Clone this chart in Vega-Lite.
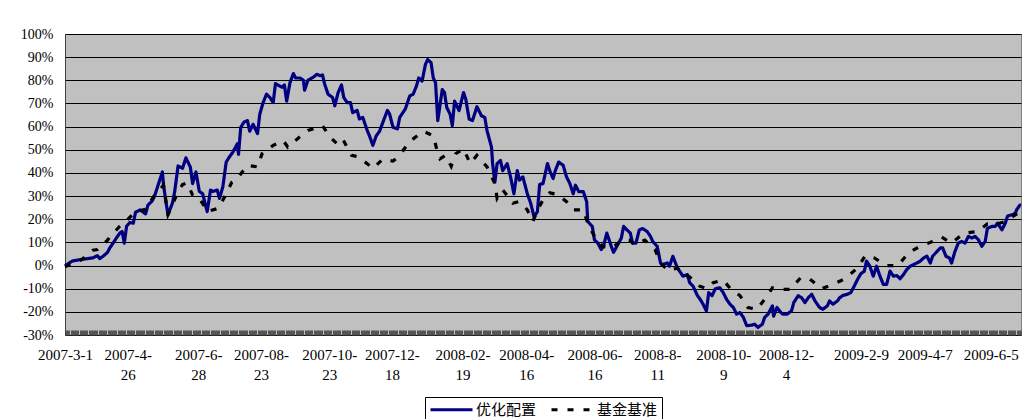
{
"$schema": "https://vega.github.io/schema/vega-lite/v6.json",
"width": 956,
"height": 301,
"autosize": {"type": "none"},
"padding": {"left": 65, "top": 34, "right": 3, "bottom": 84},
"background": "white",
"config": {"view": {"fill": "#C0C0C0", "stroke": "#808080", "strokeWidth": 1}, "font": "Liberation Serif"},
"datasets": {
"a": [
{"series":"优化配置","date":"2007-03-01","value":0},{"series":"优化配置","date":"2007-03-08","value":0.02},{"series":"优化配置","date":"2007-03-14","value":0.025},{"series":"优化配置","date":"2007-03-21","value":0.03},{"series":"优化配置","date":"2007-03-26","value":0.033},{"series":"优化配置","date":"2007-03-30","value":0.043},{"series":"优化配置","date":"2007-04-01","value":0.03},{"series":"优化配置","date":"2007-04-04","value":0.04},{"series":"优化配置","date":"2007-04-08","value":0.057},{"series":"优化配置","date":"2007-04-10","value":0.076},{"series":"优化配置","date":"2007-04-13","value":0.097},{"series":"优化配置","date":"2007-04-16","value":0.12},{"series":"优化配置","date":"2007-04-19","value":0.14},{"series":"优化配置","date":"2007-04-21","value":0.147},{"series":"优化配置","date":"2007-04-23","value":0.097},{"series":"优化配置","date":"2007-04-25","value":0.17},{"series":"优化配置","date":"2007-04-28","value":0.186},{"series":"优化配置","date":"2007-05-01","value":0.183},{"series":"优化配置","date":"2007-05-03","value":0.23},{"series":"优化配置","date":"2007-05-07","value":0.24},{"series":"优化配置","date":"2007-05-10","value":0.23},{"series":"优化配置","date":"2007-05-12","value":0.223},{"series":"优化配置","date":"2007-05-14","value":0.26},{"series":"优化配置","date":"2007-05-18","value":0.28},{"series":"优化配置","date":"2007-05-20","value":0.30},{"series":"优化配置","date":"2007-05-22","value":0.33},{"series":"优化配置","date":"2007-05-27","value":0.404},{"series":"优化配置","date":"2007-05-28","value":0.35},{"series":"优化配置","date":"2007-05-30","value":0.28},{"series":"优化配置","date":"2007-06-01","value":0.22},{"series":"优化配置","date":"2007-06-05","value":0.27},{"series":"优化配置","date":"2007-06-07","value":0.32},{"series":"优化配置","date":"2007-06-10","value":0.43},{"series":"优化配置","date":"2007-06-14","value":0.42},{"series":"优化配置","date":"2007-06-17","value":0.465},{"series":"优化配置","date":"2007-06-21","value":0.425},{"series":"优化配置","date":"2007-06-23","value":0.354},{"series":"优化配置","date":"2007-06-26","value":0.404},{"series":"优化配置","date":"2007-06-29","value":0.32},{"series":"优化配置","date":"2007-07-02","value":0.31},{"series":"优化配置","date":"2007-07-06","value":0.233},{"series":"优化配置","date":"2007-07-09","value":0.326},{"series":"优化配置","date":"2007-07-11","value":0.32},{"series":"优化配置","date":"2007-07-15","value":0.326},{"series":"优化配置","date":"2007-07-17","value":0.29},{"series":"优化配置","date":"2007-07-20","value":0.34},{"series":"优化配置","date":"2007-07-23","value":0.447},{"series":"优化配置","date":"2007-07-26","value":0.47},{"series":"优化配置","date":"2007-07-29","value":0.49},{"series":"优化配置","date":"2007-08-02","value":0.526},{"series":"优化配置","date":"2007-08-03","value":0.48},{"series":"优化配置","date":"2007-08-05","value":0.597},{"series":"优化配置","date":"2007-08-08","value":0.62},{"series":"优化配置","date":"2007-08-11","value":0.626},{"series":"优化配置","date":"2007-08-13","value":0.58},{"series":"优化配置","date":"2007-08-16","value":0.61},{"series":"优化配置","date":"2007-08-20","value":0.57},{"series":"优化配置","date":"2007-08-22","value":0.654},{"series":"优化配置","date":"2007-08-25","value":0.704},{"series":"优化配置","date":"2007-08-28","value":0.74},{"series":"优化配置","date":"2007-08-31","value":0.726},{"series":"优化配置","date":"2007-09-03","value":0.704},{"series":"优化配置","date":"2007-09-05","value":0.786},{"series":"优化配置","date":"2007-09-07","value":0.78},{"series":"优化配置","date":"2007-09-11","value":0.77},{"series":"优化配置","date":"2007-09-13","value":0.78},{"series":"优化配置","date":"2007-09-15","value":0.71},{"series":"优化配置","date":"2007-09-18","value":0.79},{"series":"优化配置","date":"2007-09-21","value":0.829},{"series":"优化配置","date":"2007-09-23","value":0.81},{"series":"优化配置","date":"2007-09-27","value":0.81},{"series":"优化配置","date":"2007-09-30","value":0.80},{"series":"优化配置","date":"2007-10-01","value":0.757},{"series":"优化配置","date":"2007-10-04","value":0.80},{"series":"优化配置","date":"2007-10-09","value":0.814},{"series":"优化配置","date":"2007-10-12","value":0.826},{"series":"优化配置","date":"2007-10-15","value":0.82},{"series":"优化配置","date":"2007-10-17","value":0.823},{"series":"优化配置","date":"2007-10-19","value":0.783},{"series":"优化配置","date":"2007-10-22","value":0.74},{"series":"优化配置","date":"2007-10-26","value":0.726},{"series":"优化配置","date":"2007-10-28","value":0.69},{"series":"优化配置","date":"2007-10-31","value":0.747},{"series":"优化配置","date":"2007-11-03","value":0.78},{"series":"优化配置","date":"2007-11-05","value":0.726},{"series":"优化配置","date":"2007-11-08","value":0.704},{"series":"优化配置","date":"2007-11-11","value":0.704},{"series":"优化配置","date":"2007-11-13","value":0.66},{"series":"优化配置","date":"2007-11-17","value":0.67},{"series":"优化配置","date":"2007-11-19","value":0.633},{"series":"优化配置","date":"2007-11-22","value":0.64},{"series":"优化配置","date":"2007-11-26","value":0.583},{"series":"优化配置","date":"2007-11-28","value":0.56},{"series":"优化配置","date":"2007-12-01","value":0.519},{"series":"优化配置","date":"2007-12-04","value":0.56},{"series":"优化配置","date":"2007-12-07","value":0.58},{"series":"优化配置","date":"2007-12-10","value":0.619},{"series":"优化配置","date":"2007-12-14","value":0.67},{"series":"优化配置","date":"2007-12-16","value":0.654},{"series":"优化配置","date":"2007-12-19","value":0.597},{"series":"优化配置","date":"2007-12-23","value":0.59},{"series":"优化配置","date":"2007-12-25","value":0.64},{"series":"优化配置","date":"2007-12-30","value":0.676},{"series":"优化配置","date":"2008-01-03","value":0.733},{"series":"优化配置","date":"2008-01-06","value":0.74},{"series":"优化配置","date":"2008-01-09","value":0.776},{"series":"优化配置","date":"2008-01-11","value":0.81},{"series":"优化配置","date":"2008-01-14","value":0.797},{"series":"优化配置","date":"2008-01-17","value":0.869},{"series":"优化配置","date":"2008-01-19","value":0.89},{"series":"优化配置","date":"2008-01-22","value":0.876},{"series":"优化配置","date":"2008-01-24","value":0.81},{"series":"优化配置","date":"2008-01-26","value":0.79},{"series":"优化配置","date":"2008-01-28","value":0.626},{"series":"优化配置","date":"2008-02-01","value":0.76},{"series":"优化配置","date":"2008-02-03","value":0.747},{"series":"优化配置","date":"2008-02-05","value":0.683},{"series":"优化配置","date":"2008-02-08","value":0.654},{"series":"优化配置","date":"2008-02-10","value":0.604},{"series":"优化配置","date":"2008-02-12","value":0.71},{"series":"优化配置","date":"2008-02-16","value":0.669},{"series":"优化配置","date":"2008-02-20","value":0.747},{"series":"优化配置","date":"2008-02-22","value":0.719},{"series":"优化配置","date":"2008-02-25","value":0.633},{"series":"优化配置","date":"2008-02-28","value":0.626},{"series":"优化配置","date":"2008-03-03","value":0.686},{"series":"优化配置","date":"2008-03-07","value":0.647},{"series":"优化配置","date":"2008-03-10","value":0.64},{"series":"优化配置","date":"2008-03-12","value":0.583},{"series":"优化配置","date":"2008-03-16","value":0.511},{"series":"优化配置","date":"2008-03-17","value":0.44},{"series":"优化配置","date":"2008-03-19","value":0.36},{"series":"优化配置","date":"2008-03-21","value":0.44},{"series":"优化配置","date":"2008-03-24","value":0.454},{"series":"优化配置","date":"2008-03-26","value":0.41},{"series":"优化配置","date":"2008-03-30","value":0.44},{"series":"优化配置","date":"2008-04-02","value":0.383},{"series":"优化配置","date":"2008-04-05","value":0.31},{"series":"优化配置","date":"2008-04-08","value":0.41},{"series":"优化配置","date":"2008-04-10","value":0.369},{"series":"优化配置","date":"2008-04-13","value":0.383},{"series":"优化配置","date":"2008-04-17","value":0.31},{"series":"优化配置","date":"2008-04-20","value":0.269},{"series":"优化配置","date":"2008-04-23","value":0.21},{"series":"优化配置","date":"2008-04-26","value":0.233},{"series":"优化配置","date":"2008-04-28","value":0.35},{"series":"优化配置","date":"2008-05-01","value":0.354},{"series":"优化配置","date":"2008-05-05","value":0.44},{"series":"优化配置","date":"2008-05-07","value":0.41},{"series":"优化配置","date":"2008-05-10","value":0.376},{"series":"优化配置","date":"2008-05-12","value":0.41},{"series":"优化配置","date":"2008-05-15","value":0.447},{"series":"优化配置","date":"2008-05-19","value":0.433},{"series":"优化配置","date":"2008-05-22","value":0.383},{"series":"优化配置","date":"2008-05-25","value":0.354},{"series":"优化配置","date":"2008-05-28","value":0.31},{"series":"优化配置","date":"2008-05-30","value":0.347},{"series":"优化配置","date":"2008-06-02","value":0.319},{"series":"优化配置","date":"2008-06-06","value":0.319},{"series":"优化配置","date":"2008-06-09","value":0.276},{"series":"优化配置","date":"2008-06-10","value":0.19},{"series":"优化配置","date":"2008-06-14","value":0.169},{"series":"优化配置","date":"2008-06-16","value":0.11},{"series":"优化配置","date":"2008-06-19","value":0.097},{"series":"优化配置","date":"2008-06-22","value":0.069},{"series":"优化配置","date":"2008-06-24","value":0.083},{"series":"优化配置","date":"2008-06-27","value":0.14},{"series":"优化配置","date":"2008-07-01","value":0.083},{"series":"优化配置","date":"2008-07-03","value":0.057},{"series":"优化配置","date":"2008-07-06","value":0.083},{"series":"优化配置","date":"2008-07-10","value":0.119},{"series":"优化配置","date":"2008-07-12","value":0.169},{"series":"优化配置","date":"2008-07-15","value":0.154},{"series":"优化配置","date":"2008-07-18","value":0.14},{"series":"优化配置","date":"2008-07-20","value":0.097},{"series":"优化配置","date":"2008-07-23","value":0.097},{"series":"优化配置","date":"2008-07-26","value":0.154},{"series":"优化配置","date":"2008-07-29","value":0.16},{"series":"优化配置","date":"2008-08-02","value":0.147},{"series":"优化配置","date":"2008-08-05","value":0.126},{"series":"优化配置","date":"2008-08-07","value":0.104},{"series":"优化配置","date":"2008-08-11","value":0.083},{"series":"优化配置","date":"2008-08-14","value":0.011},{"series":"优化配置","date":"2008-08-16","value":0.004},{"series":"优化配置","date":"2008-08-20","value":0.011},{"series":"优化配置","date":"2008-08-22","value":-0.003},{"series":"优化配置","date":"2008-08-25","value":0.04},{"series":"优化配置","date":"2008-08-29","value":-0.01},{"series":"优化配置","date":"2008-08-31","value":-0.024},{"series":"优化配置","date":"2008-09-03","value":-0.046},{"series":"优化配置","date":"2008-09-07","value":-0.039},{"series":"优化配置","date":"2008-09-09","value":-0.074},{"series":"优化配置","date":"2008-09-12","value":-0.089},{"series":"优化配置","date":"2008-09-16","value":-0.13},{"series":"优化配置","date":"2008-09-18","value":-0.143},{"series":"优化配置","date":"2008-09-21","value":-0.167},{"series":"优化配置","date":"2008-09-24","value":-0.196},{"series":"优化配置","date":"2008-09-26","value":-0.117},{"series":"优化配置","date":"2008-09-29","value":-0.13},{"series":"优化配置","date":"2008-10-02","value":-0.10},{"series":"优化配置","date":"2008-10-06","value":-0.096},{"series":"优化配置","date":"2008-10-09","value":-0.117},{"series":"优化配置","date":"2008-10-12","value":-0.146},{"series":"优化配置","date":"2008-10-15","value":-0.167},{"series":"优化配置","date":"2008-10-18","value":-0.181},{"series":"优化配置","date":"2008-10-21","value":-0.21},{"series":"优化配置","date":"2008-10-24","value":-0.203},{"series":"优化配置","date":"2008-10-27","value":-0.224},{"series":"优化配置","date":"2008-10-30","value":-0.26},{"series":"优化配置","date":"2008-11-04","value":-0.257},{"series":"优化配置","date":"2008-11-06","value":-0.253},{"series":"优化配置","date":"2008-11-09","value":-0.267},{"series":"优化配置","date":"2008-11-13","value":-0.253},{"series":"优化配置","date":"2008-11-15","value":-0.224},{"series":"优化配置","date":"2008-11-18","value":-0.21},{"series":"优化配置","date":"2008-11-22","value":-0.174},{"series":"优化配置","date":"2008-11-23","value":-0.219},{"series":"优化配置","date":"2008-11-26","value":-0.181},{"series":"优化配置","date":"2008-11-29","value":-0.20},{"series":"优化配置","date":"2008-12-01","value":-0.21},{"series":"优化配置","date":"2008-12-05","value":-0.21},{"series":"优化配置","date":"2008-12-09","value":-0.196},{"series":"优化配置","date":"2008-12-11","value":-0.16},{"series":"优化配置","date":"2008-12-15","value":-0.13},{"series":"优化配置","date":"2008-12-18","value":-0.139},{"series":"优化配置","date":"2008-12-21","value":-0.16},{"series":"优化配置","date":"2008-12-24","value":-0.139},{"series":"优化配置","date":"2008-12-27","value":-0.124},{"series":"优化配置","date":"2008-12-30","value":-0.153},{"series":"优化配置","date":"2009-01-03","value":-0.181},{"series":"优化配置","date":"2009-01-06","value":-0.189},{"series":"优化配置","date":"2009-01-10","value":-0.174},{"series":"优化配置","date":"2009-01-12","value":-0.153},{"series":"优化配置","date":"2009-01-15","value":-0.167},{"series":"优化配置","date":"2009-01-19","value":-0.153},{"series":"优化配置","date":"2009-01-21","value":-0.139},{"series":"优化配置","date":"2009-01-24","value":-0.129},{"series":"优化配置","date":"2009-01-28","value":-0.124},{"series":"优化配置","date":"2009-01-31","value":-0.117},{"series":"优化配置","date":"2009-02-03","value":-0.089},{"series":"优化配置","date":"2009-02-06","value":-0.06},{"series":"优化配置","date":"2009-02-09","value":-0.035},{"series":"优化配置","date":"2009-02-12","value":-0.025},{"series":"优化配置","date":"2009-02-14","value":0.019},{"series":"优化配置","date":"2009-02-17","value":-0.003},{"series":"优化配置","date":"2009-02-20","value":-0.046},{"series":"优化配置","date":"2009-02-23","value":-0.003},{"series":"优化配置","date":"2009-02-26","value":-0.046},{"series":"优化配置","date":"2009-03-01","value":-0.081},{"series":"优化配置","date":"2009-03-04","value":-0.081},{"series":"优化配置","date":"2009-03-07","value":-0.024},{"series":"优化配置","date":"2009-03-10","value":-0.046},{"series":"优化配置","date":"2009-03-13","value":-0.043},{"series":"优化配置","date":"2009-03-16","value":-0.057},{"series":"优化配置","date":"2009-03-19","value":-0.039},{"series":"优化配置","date":"2009-03-22","value":-0.017},{"series":"优化配置","date":"2009-03-25","value":-0.003},{"series":"优化配置","date":"2009-03-28","value":0.004},{"series":"优化配置","date":"2009-03-31","value":0.011},{"series":"优化配置","date":"2009-04-03","value":0.019},{"series":"优化配置","date":"2009-04-06","value":0.033},{"series":"优化配置","date":"2009-04-09","value":0.04},{"series":"优化配置","date":"2009-04-12","value":0.011},{"series":"优化配置","date":"2009-04-14","value":0.04},{"series":"优化配置","date":"2009-04-18","value":0.061},{"series":"优化配置","date":"2009-04-21","value":0.076},{"series":"优化配置","date":"2009-04-23","value":0.076},{"series":"优化配置","date":"2009-04-26","value":0.04},{"series":"优化配置","date":"2009-04-29","value":0.033},{"series":"优化配置","date":"2009-05-01","value":0.011},{"series":"优化配置","date":"2009-05-04","value":0.061},{"series":"优化配置","date":"2009-05-07","value":0.097},{"series":"优化配置","date":"2009-05-10","value":0.104},{"series":"优化配置","date":"2009-05-13","value":0.097},{"series":"优化配置","date":"2009-05-16","value":0.126},{"series":"优化配置","date":"2009-05-19","value":0.119},{"series":"优化配置","date":"2009-05-22","value":0.126},{"series":"优化配置","date":"2009-05-25","value":0.111},{"series":"优化配置","date":"2009-05-28","value":0.083},{"series":"优化配置","date":"2009-05-31","value":0.104},{"series":"优化配置","date":"2009-06-02","value":0.161},{"series":"优化配置","date":"2009-06-06","value":0.169},{"series":"优化配置","date":"2009-06-09","value":0.169},{"series":"优化配置","date":"2009-06-11","value":0.183},{"series":"优化配置","date":"2009-06-15","value":0.154},{"series":"优化配置","date":"2009-06-18","value":0.183},{"series":"优化配置","date":"2009-06-20","value":0.214},{"series":"优化配置","date":"2009-06-24","value":0.219},{"series":"优化配置","date":"2009-06-27","value":0.226},{"series":"优化配置","date":"2009-06-28","value":0.24},{"series":"优化配置","date":"2009-07-01","value":0.261},{"series":"优化配置","date":"2009-07-02","value":0.26}
],
"b": [
{"series":"基金基准","date":"2007-03-01","value":-0.006},{"series":"基金基准","date":"2007-03-05","value":0.004},{"series":"基金基准","date":"2007-03-16","value":0.026},{"series":"基金基准","date":"2007-03-26","value":0.066},{"series":"基金基准","date":"2007-03-30","value":0.069},{"series":"基金基准","date":"2007-04-08","value":0.11},{"series":"基金基准","date":"2007-04-10","value":0.123},{"series":"基金基准","date":"2007-04-19","value":0.17},{"series":"基金基准","date":"2007-04-24","value":0.19},{"series":"基金基准","date":"2007-05-03","value":0.233},{"series":"基金基准","date":"2007-05-12","value":0.243},{"series":"基金基准","date":"2007-05-19","value":0.297},{"series":"基金基准","date":"2007-05-28","value":0.347},{"series":"基金基准","date":"2007-06-01","value":0.22},{"series":"基金基准","date":"2007-06-08","value":0.297},{"series":"基金基准","date":"2007-06-14","value":0.35},{"series":"基金基准","date":"2007-06-18","value":0.357},{"series":"基金基准","date":"2007-06-23","value":0.304},{"series":"基金基准","date":"2007-06-28","value":0.297},{"series":"基金基准","date":"2007-07-03","value":0.26},{"series":"基金基准","date":"2007-07-06","value":0.233},{"series":"基金基准","date":"2007-07-16","value":0.247},{"series":"基金基准","date":"2007-07-22","value":0.30},{"series":"基金基准","date":"2007-07-28","value":0.36},{"series":"基金基准","date":"2007-08-03","value":0.383},{"series":"基金基准","date":"2007-08-11","value":0.433},{"series":"基金基准","date":"2007-08-20","value":0.426},{"series":"基金基准","date":"2007-08-24","value":0.483},{"series":"基金基准","date":"2007-09-03","value":0.519},{"series":"基金基准","date":"2007-09-12","value":0.54},{"series":"基金基准","date":"2007-09-16","value":0.511},{"series":"基金基准","date":"2007-09-27","value":0.557},{"series":"基金基准","date":"2007-10-04","value":0.583},{"series":"基金基准","date":"2007-10-17","value":0.604},{"series":"基金基准","date":"2007-10-24","value":0.554},{"series":"基金基准","date":"2007-10-30","value":0.526},{"series":"基金基准","date":"2007-11-04","value":0.547},{"series":"基金基准","date":"2007-11-12","value":0.476},{"series":"基金基准","date":"2007-11-17","value":0.471},{"series":"基金基准","date":"2007-11-26","value":0.44},{"series":"基金基准","date":"2007-12-01","value":0.419},{"series":"基金基准","date":"2007-12-10","value":0.46},{"series":"基金基准","date":"2007-12-19","value":0.451},{"series":"基金基准","date":"2007-12-24","value":0.471},{"series":"基金基准","date":"2008-01-03","value":0.536},{"series":"基金基准","date":"2008-01-15","value":0.58},{"series":"基金基准","date":"2008-01-24","value":0.561},{"series":"基金基准","date":"2008-01-27","value":0.504},{"series":"基金基准","date":"2008-01-30","value":0.461},{"series":"基金基准","date":"2008-02-04","value":0.476},{"series":"基金基准","date":"2008-02-09","value":0.429},{"series":"基金基准","date":"2008-02-13","value":0.483},{"series":"基金基准","date":"2008-02-20","value":0.504},{"series":"基金基准","date":"2008-02-26","value":0.44},{"series":"基金基准","date":"2008-03-03","value":0.476},{"series":"基金基准","date":"2008-03-12","value":0.426},{"series":"基金基准","date":"2008-03-19","value":0.354},{"series":"基金基准","date":"2008-03-21","value":0.29},{"series":"基金基准","date":"2008-03-26","value":0.326},{"series":"基金基准","date":"2008-03-31","value":0.297},{"series":"基金基准","date":"2008-04-04","value":0.269},{"series":"基金基准","date":"2008-04-09","value":0.276},{"series":"基金基准","date":"2008-04-12","value":0.269},{"series":"基金基准","date":"2008-04-17","value":0.24},{"series":"基金基准","date":"2008-04-22","value":0.19},{"series":"基金基准","date":"2008-04-26","value":0.24},{"series":"基金基准","date":"2008-05-01","value":0.283},{"series":"基金基准","date":"2008-05-07","value":0.314},{"series":"基金基准","date":"2008-05-14","value":0.307},{"series":"基金基准","date":"2008-05-22","value":0.276},{"series":"基金基准","date":"2008-05-28","value":0.24},{"series":"基金基准","date":"2008-06-06","value":0.24},{"series":"基金基准","date":"2008-06-11","value":0.169},{"series":"基金基准","date":"2008-06-18","value":0.11},{"series":"基金基准","date":"2008-06-23","value":0.083},{"series":"基金基准","date":"2008-07-02","value":0.076},{"series":"基金基准","date":"2008-07-09","value":0.104},{"series":"基金基准","date":"2008-07-17","value":0.11},{"series":"基金基准","date":"2008-07-22","value":0.09},{"series":"基金基准","date":"2008-07-31","value":0.11},{"series":"基金基准","date":"2008-08-09","value":0.069},{"series":"基金基准","date":"2008-08-15","value":0.004},{"series":"基金基准","date":"2008-08-22","value":-0.024},{"series":"基金基准","date":"2008-08-29","value":-0.01},{"series":"基金基准","date":"2008-09-03","value":-0.039},{"series":"基金基准","date":"2008-09-09","value":-0.049},{"series":"基金基准","date":"2008-09-18","value":-0.089},{"series":"基金基准","date":"2008-09-24","value":-0.10},{"series":"基金基准","date":"2008-09-30","value":-0.074},{"series":"基金基准","date":"2008-10-09","value":-0.063},{"series":"基金基准","date":"2008-10-16","value":-0.103},{"series":"基金基准","date":"2008-10-24","value":-0.13},{"series":"基金基准","date":"2008-10-31","value":-0.181},{"series":"基金基准","date":"2008-11-08","value":-0.189},{"series":"基金基准","date":"2008-11-15","value":-0.146},{"series":"基金基准","date":"2008-11-22","value":-0.096},{"series":"基金基准","date":"2008-11-29","value":-0.103},{"series":"基金基准","date":"2008-12-08","value":-0.103},{"series":"基金基准","date":"2008-12-17","value":-0.053},{"series":"基金基准","date":"2008-12-25","value":-0.057},{"series":"基金基准","date":"2009-01-05","value":-0.10},{"series":"基金基准","date":"2009-01-15","value":-0.081},{"series":"基金基准","date":"2009-01-26","value":-0.057},{"series":"基金基准","date":"2009-02-06","value":-0.01},{"series":"基金基准","date":"2009-02-13","value":0.043},{"series":"基金基准","date":"2009-02-21","value":0.033},{"series":"基金基准","date":"2009-02-28","value":0.011},{"series":"基金基准","date":"2009-03-04","value":0},{"series":"基金基准","date":"2009-03-14","value":0},{"series":"基金基准","date":"2009-03-24","value":0.057},{"series":"基金基准","date":"2009-04-03","value":0.083},{"series":"基金基准","date":"2009-04-12","value":0.10},{"series":"基金基准","date":"2009-04-22","value":0.123},{"series":"基金基准","date":"2009-05-01","value":0.097},{"series":"基金基准","date":"2009-05-12","value":0.14},{"series":"基金基准","date":"2009-05-24","value":0.147},{"series":"基金基准","date":"2009-06-02","value":0.18},{"series":"基金基准","date":"2009-06-11","value":0.18},{"series":"基金基准","date":"2009-06-18","value":0.19},{"series":"基金基准","date":"2009-06-30","value":0.229},{"series":"基金基准","date":"2009-07-02","value":0.23}
]
},
"encoding": {
  "x": {"field": "date", "type": "temporal",
    "scale": {"type": "utc", "domain": [{"year": 2007, "month": 3, "date": 1, "utc": true}, {"year": 2009, "month": 7, "date": 2, "utc": true}]},
    "axis": {"title": null, "grid": false, "domain": false, "ticks": true, "tickCount": {"interval": "day", "step": 1}, "tickSize": -5, "tickColor": "#555555", "tickWidth": 1,
      "labelExpr": "indexof(['2007-03-01','2007-04-26','2007-06-28','2007-08-23','2007-10-23','2007-12-18','2008-02-19','2008-04-16','2008-06-16','2008-08-11','2008-10-09','2008-12-04','2009-02-09','2009-04-07','2009-06-05'], utcFormat(datum.value, '%Y-%m-%d')) < 0 ? '' : [['2007-3-1'],['2007-4-','26'],['2007-6-','28'],['2007-08-','23'],['2007-10-','23'],['2007-12-','18'],['2008-02-','19'],['2008-04-','16'],['2008-06-','16'],['2008-8-','11'],['2008-10-','9'],['2008-12-','4'],['2009-2-9'],['2009-4-7'],['2009-6-5']][indexof(['2007-03-01','2007-04-26','2007-06-28','2007-08-23','2007-10-23','2007-12-18','2008-02-19','2008-04-16','2008-06-16','2008-08-11','2008-10-09','2008-12-04','2009-02-09','2009-04-07','2009-06-05'], utcFormat(datum.value, '%Y-%m-%d'))]",
      "labelPadding": 17, "labelAlign": "center", "labelBaseline": "top", "labelLineHeight": 20, "labelFont": "Liberation Serif", "labelFontSize": 15, "labelColor": "#000000", "labelOverlap": false, "labelFlush": false, "labelBound": false}
  },
  "y": {"field": "value", "type": "quantitative",
    "scale": {"domain": [-0.3, 1.0], "nice": false, "zero": false},
    "axis": {"title": null, "values": [-0.3, -0.2, -0.1, 0, 0.1, 0.2, 0.3, 0.4, 0.5, 0.6, 0.7, 0.8, 0.9, 1.0],
      "labelExpr": "replace(format(datum.value, '.0%'), '−', '-')",
      "grid": true, "gridColor": "#000000", "gridWidth": 1, "gridOpacity": 1, "ticks": false, "domain": true, "domainColor": "#404040",
      "labelFont": "Liberation Serif", "labelFontSize": 14, "labelColor": "#000000", "labelPadding": 12, "labelBaseline": "middle"}
  },
  "color": {"field": "series", "type": "nominal",
    "scale": {"domain": ["优化配置", "基金基准"], "range": ["#000080", "#000000"]},
    "legend": {"title": null, "orient": "none", "legendX": 360, "legendY": 363, "direction": "horizontal", "symbolType": "M-1,0H5", "symbolSize": 196, "symbolStrokeWidth": 3, "labelFont": "Noto Sans CJK SC", "labelFontSize": 15, "labelColor": "#000000", "labelOffset": 30, "columnPadding": 8, "strokeColor": "#000000", "fillColor": "#ffffff", "padding": 4}
  },
  "strokeDash": {"field": "series", "type": "nominal",
    "scale": {"domain": ["优化配置", "基金基准"], "range": [[1, 0], [6, 10]]},
    "legend": {"title": null, "orient": "none", "legendX": 360, "legendY": 363, "direction": "horizontal", "symbolType": "M-1,0H5", "symbolSize": 196, "symbolStrokeWidth": 3, "labelFont": "Noto Sans CJK SC", "labelFontSize": 15, "labelColor": "#000000", "labelOffset": 30, "columnPadding": 8, "strokeColor": "#000000", "fillColor": "#ffffff", "padding": 4}
  }
},
"layer": [
  {"data": {"name": "a"}, "mark": {"type": "line", "strokeWidth": 3.2, "strokeJoin": "round"}},
  {"data": {"name": "b"}, "mark": {"type": "line", "strokeWidth": 3.2}}
]
}
